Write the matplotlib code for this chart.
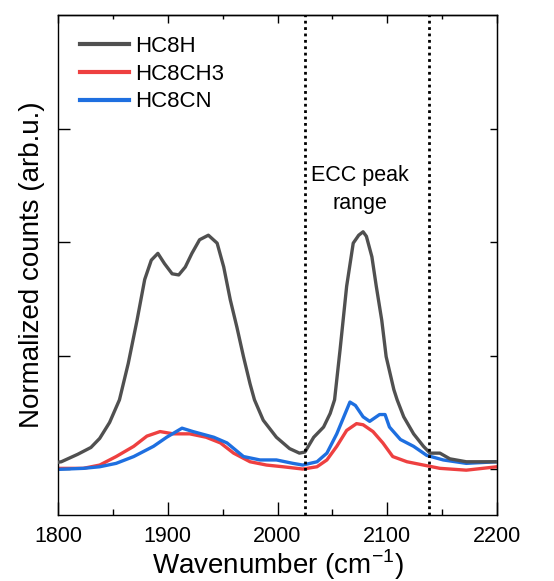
import matplotlib
matplotlib.use("Agg")
import matplotlib.pyplot as plt

plt.rcParams['font.family'] = ['Liberation Sans', 'DejaVu Sans']
plt.rcParams['mathtext.fontset'] = 'custom'
plt.rcParams['mathtext.rm'] = 'Liberation Sans'

# --- data ---
x_h = [1800, 1803, 1818, 1830, 1838, 1847, 1856, 1864, 1872, 1879, 1885, 1891, 1897,
       1904, 1910, 1916, 1922, 1929, 1937, 1945, 1951, 1957, 1963, 1969, 1975, 1979,
       1987, 1999, 2011, 2020, 2025, 2033, 2042, 2048, 2052, 2057, 2063, 2069, 2074,
       2078, 2081, 2086, 2090, 2095, 2099, 2106, 2109, 2115, 2124, 2133, 2139, 2148,
       2157, 2172, 2200]
y_h = [0.06, 0.064, 0.13, 0.19, 0.27, 0.41, 0.61, 0.93, 1.31, 1.67, 1.84, 1.90, 1.81,
       1.72, 1.71, 1.78, 1.90, 2.02, 2.06, 1.99, 1.78, 1.49, 1.25, 0.99, 0.75, 0.61,
       0.43, 0.28, 0.18, 0.14, 0.15, 0.28, 0.37, 0.49, 0.61, 1.05, 1.61, 1.99, 2.06,
       2.09, 2.05, 1.87, 1.61, 1.31, 0.99, 0.70, 0.61, 0.46, 0.31, 0.20, 0.14, 0.14,
       0.09, 0.064, 0.064]

x_ch3 = [1800, 1823, 1838, 1853, 1869, 1881, 1893, 1905, 1920, 1935, 1948, 1960, 1975,
         1990, 2005, 2023, 2036, 2045, 2054, 2063, 2072, 2078, 2087, 2096, 2105, 2118,
         2133, 2148, 2172, 2200]
y_ch3 = [0.006, 0.006, 0.035, 0.11, 0.20, 0.29, 0.33, 0.31, 0.31, 0.28, 0.23, 0.14, 0.064,
         0.035, 0.02, 0.0, 0.02, 0.08, 0.20, 0.34, 0.40, 0.39, 0.33, 0.23, 0.11, 0.064,
         0.035, 0.006, -0.01, 0.02]

x_cn = [1800, 1823, 1838, 1853, 1869, 1887, 1899, 1913, 1923, 1942, 1954, 1969, 1984,
        1999, 2014, 2023, 2036, 2045, 2054, 2063, 2066, 2071, 2078, 2084, 2093, 2098,
        2102, 2112, 2124, 2136, 2151, 2172, 2200]
y_cn = [-0.003, 0.006, 0.02, 0.05, 0.11, 0.20, 0.28, 0.36, 0.33, 0.28, 0.23, 0.11, 0.08,
        0.08, 0.05, 0.035, 0.064, 0.14, 0.31, 0.52, 0.59, 0.56, 0.46, 0.42, 0.48, 0.48,
        0.37, 0.26, 0.20, 0.12, 0.08, 0.05, 0.064]

labels = ["HC8H", "HC8CH3", "HC8CN"]
ecc_range = [2025, 2138]

# --- figure ---
fig = plt.figure(figsize=(5.54, 5.81), dpi=100)
ax = fig.add_axes([58/554, 66/581, 439/554, 500/581])

ax.plot(x_h, y_h, color='#505050', lw=2.4, label=labels[0], zorder=3)
ax.plot(x_ch3, y_ch3, color='#EE4040', lw=2.4, label=labels[1], zorder=2)
ax.plot(x_cn, y_cn, color='#1E6FE0', lw=2.4, label=labels[2], zorder=2.5)

for xv in ecc_range:
    ax.axvline(xv, color='black', lw=2.0, ls=(0, (1, 1.3)), zorder=4)

ax.text(2075, 2.46, "ECC peak\nrange", ha='center', va='center', fontsize=15.5,
        linespacing=1.45)

ax.set_xlim(1800, 2200)
ax.set_ylim(-0.405, 4.0)
ax.set_xticks([1800, 1900, 2000, 2100, 2200])
ax.set_xticks([1850, 1950, 2050, 2150], minor=True)
ax.set_yticks([0, 1, 2, 3])
ax.set_yticklabels([])
ax.tick_params(axis='x', which='major', direction='in', length=9.4, width=1,
               labelsize=15.5, pad=8)
ax.tick_params(axis='x', which='minor', direction='in', length=4.3, width=1)
ax.tick_params(axis='y', which='major', direction='in', length=8.6, width=1)

secx = ax.secondary_xaxis('top')
secx.set_xticks([1800, 1900, 2000, 2100, 2200])
secx.set_xticks([1850, 1950, 2050, 2150], minor=True)
secx.tick_params(axis='x', which='major', direction='in', length=5.8, width=1, labeltop=False)
secx.tick_params(axis='x', which='minor', direction='in', length=2.9, width=1)
secx.spines['top'].set_linewidth(1)

secy = ax.secondary_yaxis('right')
secy.set_yticks([0, 1, 2, 3])
secy.tick_params(axis='y', which='major', direction='in', length=5, width=1, labelright=False)

for s in ax.spines.values():
    s.set_linewidth(1)

ax.set_xlabel("Wavenumber (cm$^{\\mathregular{-1}}$)", fontsize=20, labelpad=0)
ax.set_ylabel("Normalized counts (arb.u.)", fontsize=20, labelpad=6)

leg = ax.legend(loc='upper left', bbox_to_anchor=(0.05, 0.958), frameon=False,
                fontsize=16, handlelength=2.2, handletextpad=0.3,
                labelspacing=0.3, borderpad=0, borderaxespad=0)
for h in leg.get_lines():
    h.set_linewidth(3)

fig.savefig("out.png", dpi=100)
